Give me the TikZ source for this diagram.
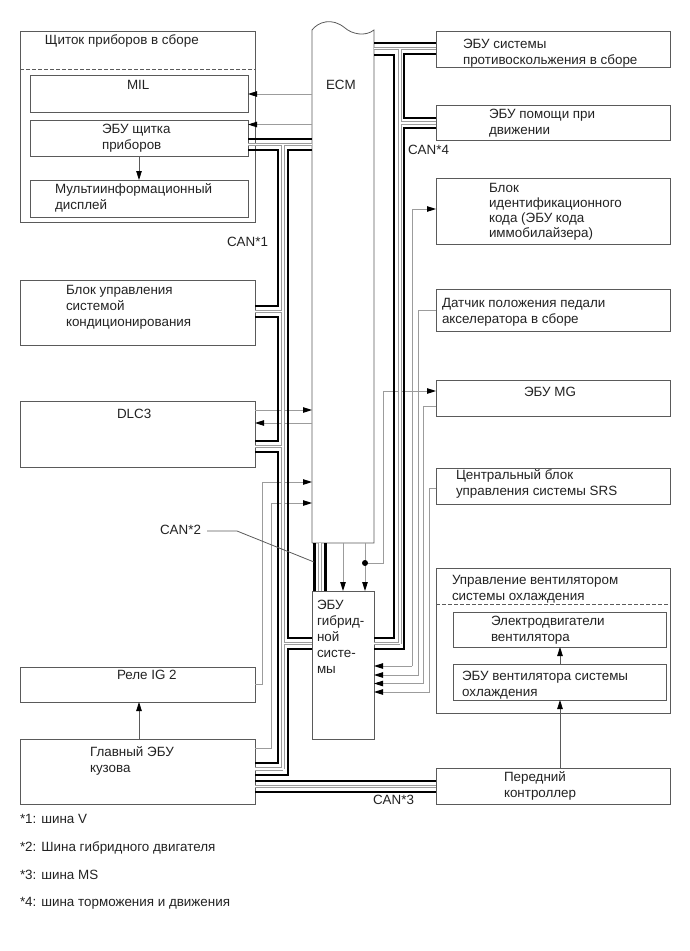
\documentclass[tikz,border=0pt]{standalone}
\usepackage{fontspec}
\setmainfont{Liberation Sans}
\usepackage{xcolor}
\usetikzlibrary{positioning, arrows.meta}
\definecolor{boxgray}{HTML}{5A5A5A}
\definecolor{siggray}{HTML}{9C9C9C}
\definecolor{inkgray}{HTML}{222222}
\tikzset{
  unitbox/.style={draw=boxgray, line width=0.8pt, anchor=north west, inner sep=0pt, outer sep=0pt},
  lbl/.style={anchor=north west, inner sep=0pt, outer sep=0pt, align=left, text=inkgray,
    font=\fontsize{13.4}{16}\selectfont, execute at begin node=\strut},
  sigline/.style={draw=siggray, line width=0.9pt},
  tip/.style={-{Stealth[length=9pt,width=5.5pt,inset=0pt,color=black]}},
  busline/.style={draw=black, line width=2.6pt},
  busmid/.style={draw=siggray, line width=0.9pt, double=white, double distance=1.8pt},
}
\begin{document}
\begin{tikzpicture}[x=1pt,y=-1pt]
\useasboundingbox (0,0) rectangle (689,951);
% Left column
\node[unitbox, minimum width=235, minimum height=191] (panel) at (20,31) {};
\node[unitbox, minimum width=218, minimum height=37] (mil) at (30,75) {};
\node[unitbox, minimum width=218, minimum height=36] (panelecu) at (30,120) {};
\node[unitbox, minimum width=218, minimum height=37] (mfd) at (30,180) {};
\node[unitbox, minimum width=235, minimum height=65] (aircon) at (20,280) {};
\node[unitbox, minimum width=235, minimum height=66] (dlc) at (20,401) {};
\node[unitbox, minimum width=235, minimum height=35] (igrelay) at (20,667) {};
\node[unitbox, minimum width=235, minimum height=65] (bodyecu) at (20,739) {};
% Center column
\node[inner sep=0pt, outer sep=0pt, anchor=north west, minimum width=62, minimum height=513] (ecm) at (312,30) {};
\node[unitbox, minimum width=62, minimum height=148] (hvecu) at (312,591) {};
% Right column
\node[unitbox, minimum width=234, minimum height=36] (skid) at (436,31) {};
\node[unitbox, minimum width=234, minimum height=35] (drive) at (436,105) {};
\node[unitbox, minimum width=234, minimum height=66] (immo) at (436,178) {};
\node[unitbox, minimum width=234, minimum height=42] (pedal) at (436,289) {};
\node[unitbox, minimum width=234, minimum height=36] (mgecu) at (436,380) {};
\node[unitbox, minimum width=234, minimum height=36] (srs) at (436,468) {};
\node[unitbox, minimum width=234, minimum height=145] (fan) at (436,568) {};
\node[unitbox, minimum width=213, minimum height=35] (fanmotor) at (453,612) {};
\node[unitbox, minimum width=213, minimum height=36] (fanecu) at (453,664) {};
\node[unitbox, minimum width=234, minimum height=36] (frontctl) at (436,768) {};
% ECM outline, open wave on top
\draw[draw=boxgray, line width=0.8pt] (ecm.south west) -- (ecm.north west)
  .. controls (318,22) and (332,17) .. (345,28) .. controls (352,34) and (365,37) .. (ecm.north east)
  -- (ecm.south east) -- (ecm.south west);
% Dashed separators
\draw[draw=boxgray, line width=0.7pt, dash pattern=on 4pt off 2pt] (panel.west |- 0,69) -- (panel.east |- 0,69);
\draw[draw=boxgray, line width=0.7pt, dash pattern=on 4pt off 2pt] (fan.west |- 0,604) -- (fan.east |- 0,604);
% Signal lines
\draw[sigline,tip] (ecm.west |- 0,94) -- (mil.east |- 0,94);
\draw[sigline,tip] (ecm.west |- 0,124.5) -- (panelecu.east |- 0,124.5);
\draw[sigline,tip] (dlc.east |- 0,410) -- (ecm.west |- 0,410);
\draw[sigline,tip] (ecm.west |- 0,423) -- (dlc.east |- 0,423);
\draw[sigline,tip] (igrelay.east |- 0,684) -- (262,684) -- (262,482) -- (ecm.west |- 0,482);
\draw[sigline,tip] (bodyecu.east |- 0,748) -- (271,748) -- (271,503) -- (ecm.west |- 0,503);
\draw[sigline,tip] (412,666) -- (412,209) -- (immo.west |- 0,209);
\draw[sigline] (pedal.west |- 0,310) -- (418,310);
\draw[sigline,tip] (418,310) -- (418,675) -- (hvecu.east |- 0,675);
\draw[sigline] (mgecu.west |- 0,406) -- (423,406);
\draw[sigline,tip] (423,406) -- (423,683.5) -- (hvecu.east |- 0,683.5);
\draw[sigline] (srs.west |- 0,488) -- (429,488);
\draw[sigline,tip] (429,488) -- (429,692) -- (hvecu.east |- 0,692);
\draw[sigline,tip] (412,666) -- (hvecu.east |- 0,666);
\draw[sigline,tip] (365,563) -- (383,563) -- (383,391) -- (mgecu.west |- 0,391);
\draw[sigline,tip] (ecm.south -| 343,0) -- (hvecu.north -| 343,0);
\draw[sigline,tip] (ecm.south -| 365,0) -- (hvecu.north -| 365,0);
\fill[black] (365,563) circle (3pt);
\draw[draw=boxgray,line width=0.8pt,tip] (panelecu.south -| 139,0) -- (mfd.north -| 139,0);
\draw[draw=boxgray,line width=0.8pt,tip] (bodyecu.north -| 139,0) -- (igrelay.south -| 139,0);
\draw[draw=boxgray,line width=0.8pt,tip] (frontctl.north -| 560,0) -- (fanecu.south -| 560,0);
\draw[draw=boxgray,line width=0.8pt,tip] (fanecu.north -| 560,0) -- (fanmotor.south -| 560,0);
% CAN buses, middle pairs
\draw[busmid] (panelecu.east |- 0,144.5) -- (ecm.west |- 0,144.5)
  (283,144.5) -- (283,769)
  (aircon.east |- 0,311.5) -- (283,311.5)
  (dlc.east |- 0,446.5) -- (283,446.5)
  (hvecu.west |- 0,643.5) -- (283,643.5)
  (bodyecu.east |- 0,769) -- (283,769);
\draw[busmid] (ecm.east |- 0,48.5) -- (skid.west |- 0,48.5)
  (400,48.5) -- (400,643.5)
  (drive.west |- 0,123) -- (400,123)
  (hvecu.east |- 0,643.5) -- (400,643.5);
\draw[busmid] (bodyecu.east |- 0,786.5) -- (frontctl.west |- 0,786.5);
\draw[busmid] (320,543) -- (320,591);
% CAN buses, black pairs
\draw[busline] (panelecu.east |- 0,139) -- (ecm.west |- 0,139);
\draw[busline] (panelecu.east |- 0,150) -- (278,150) -- (278,306) -- (aircon.east |- 0,306);
\draw[busline] (aircon.east |- 0,317) -- (278,317) -- (278,441) -- (dlc.east |- 0,441);
\draw[busline] (dlc.east |- 0,452) -- (278,452) -- (278,763) -- (bodyecu.east |- 0,763);
\draw[busline] (ecm.west |- 0,150) -- (288,150) -- (288,638) -- (hvecu.west |- 0,638);
\draw[busline] (hvecu.west |- 0,649) -- (288,649) -- (288,775) -- (bodyecu.east |- 0,775);
\draw[busline] (ecm.east |- 0,43) -- (skid.west |- 0,43);
\draw[busline] (ecm.east |- 0,55) -- (394,55) -- (394,638) -- (hvecu.east |- 0,638);
\draw[busline] (skid.west |- 0,54) -- (404,54) -- (404,118) -- (drive.west |- 0,118);
\draw[busline] (drive.west |- 0,128) -- (404,128) -- (404,649) -- (hvecu.east |- 0,649);
\draw[busline] (bodyecu.east |- 0,781) -- (frontctl.west |- 0,781);
\draw[busline] (bodyecu.east |- 0,792) -- (frontctl.west |- 0,792);
\draw[busline] (314.5,543) -- (314.5,591);
\draw[busline] (325.5,543) -- (325.5,591);
% Leader for the hybrid bus
\node[lbl] (can2) at (160,523) {CAN*2};
\draw[draw=boxgray, line width=0.8pt] (207,531) -- (237,531) -- (314,562);
% Bus names
\node[lbl] (can1) at (227,235) {CAN*1};
\node[lbl] (can3) at (373,793) {CAN*3};
\node[lbl] (can4) at (408,143) {CAN*4};
% Unit names
\node[lbl] (panelname) at (45,33) {Щиток приборов в сборе};
\node[lbl] (milname) at (127,78) {MIL};
\node[lbl] (panelecuname) at (102,124.5) {ЭБУ щитка\\приборов};
\node[lbl] (mfdname) at (55,184) {Мультиинформационный\\дисплей};
\node[lbl] (airconname) at (66,285) {Блок управления\\системой\\кондиционирования};
\node[lbl] (dlcname) at (117,407) {DLC3};
\node[lbl] (relayname) at (117,668) {Реле IG 2};
\node[lbl] (bodyname) at (90,747) {Главный ЭБУ\\кузова};
\node[lbl] (ecmname) at (326,78) {ECM};
\node[lbl] (hvname) at (317,600) {ЭБУ\\гибрид-\\ной\\систе-\\мы};
\node[lbl] (skidname) at (463,39) {ЭБУ системы\\противоскольжения в сборе};
\node[lbl] (drivename) at (489,109) {ЭБУ помощи при\\движении};
\node[lbl, font=\fontsize{13.4}{15}\selectfont] (immoname) at (489,183) {Блок\\идентификационного\\кода (ЭБУ кода\\иммобилайзера)};
\node[lbl] (pedalname) at (442,298) {Датчик положения педали\\акселератора в сборе};
\node[lbl] (mgname) at (524,385) {ЭБУ MG};
\node[lbl] (srsname) at (456,470) {Центральный блок\\управления системы SRS};
\node[lbl] (fanname) at (452,575) {Управление вентилятором\\системы охлаждения};
\node[lbl] (motorname) at (491,616) {Электродвигатели\\вентилятора};
\node[lbl] (fanecuname) at (462,671) {ЭБУ вентилятора системы\\охлаждения};
\node[lbl] (frontname) at (504,772) {Передний\\контроллер};
% Notes under the diagram
\node[lbl] (note1) at (20,812) {*1: шина V};
\node[lbl] (note2) at (20,840) {*2: Шина гибридного двигателя};
\node[lbl] (note3) at (20,868) {*3: шина MS};
\node[lbl] (note4) at (20,895) {*4: шина торможения и движения};
\end{tikzpicture}
\end{document}
